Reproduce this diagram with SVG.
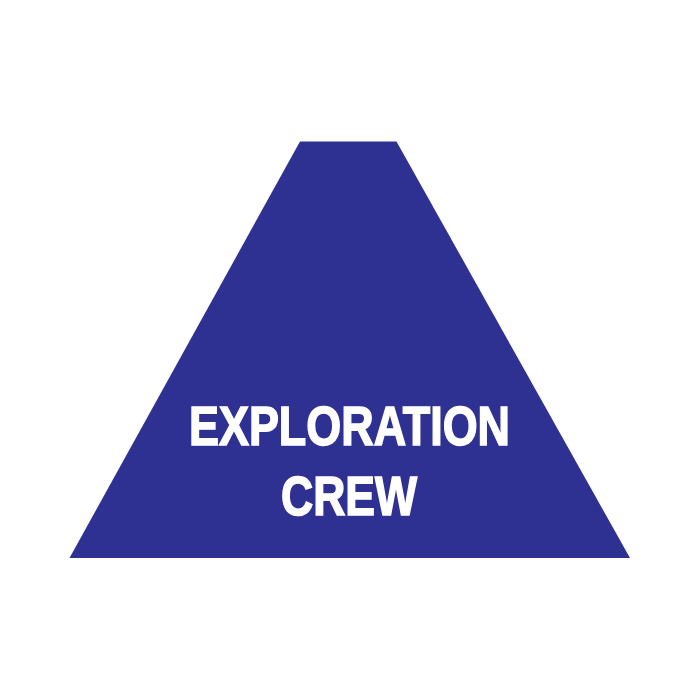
<svg xmlns="http://www.w3.org/2000/svg" width="700" height="700" viewBox="0 0 700 700">
<style>
.lbl{font-family:"Liberation Sans",Arial,sans-serif;font-weight:bold;font-size:55px;fill:#FFFFFF;stroke:#FFFFFF;stroke-width:1.6px;stroke-linejoin:miter;text-anchor:middle}
</style>
<rect width="700" height="700" fill="#FFFFFF"/>
<g id="exploration-crew">
<polygon points="300,141.5 396.5,141.5 630,558 69.5,558" fill="#2E3192"/>
<text class="lbl" x="349.5" y="444.5" textLength="321" lengthAdjust="spacingAndGlyphs">EXPLORATION</text>
<text class="lbl" x="349" y="514.5" textLength="136" lengthAdjust="spacingAndGlyphs">CREW</text>
</g>
<g id="connectors"></g>
</svg>
